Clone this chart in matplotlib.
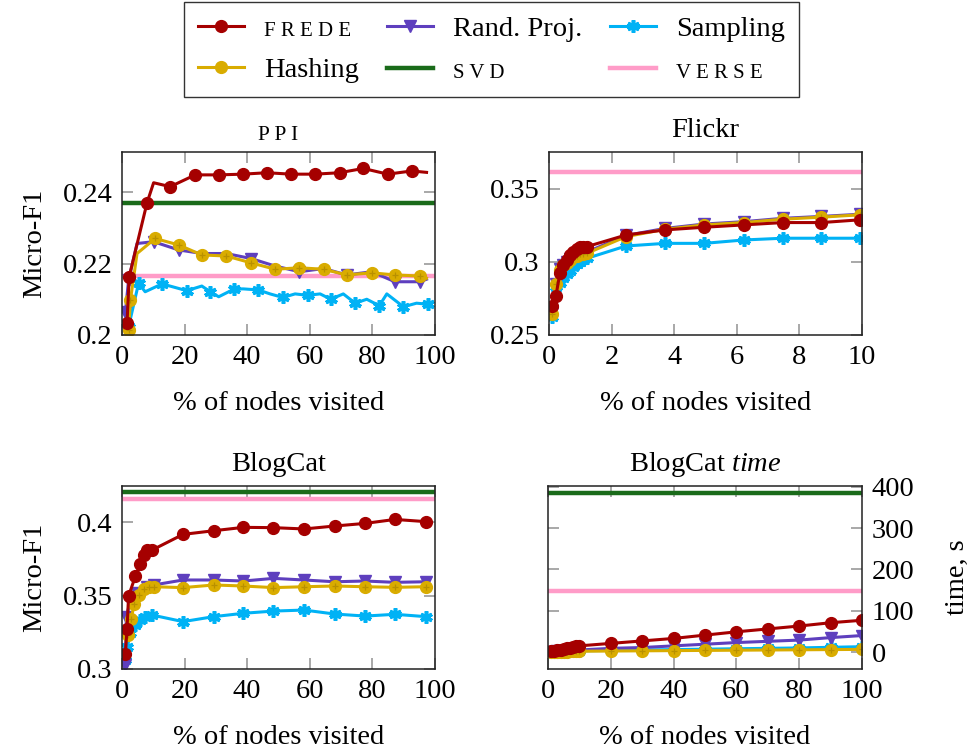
import matplotlib
matplotlib.use("Agg")
import matplotlib.pyplot as plt
from matplotlib.lines import Line2D

plt.rcParams['font.family'] = ['Liberation Serif', 'DejaVu Serif']
plt.rcParams['mathtext.fontset'] = 'custom'
plt.rcParams['mathtext.rm'] = 'Liberation Serif'
plt.rcParams['mathtext.it'] = 'Liberation Serif:italic'

# ---------------- data ----------------
# PPI
ppi_frede_x = [1.6, 2.3, 8.0, 10.1, 15.4, 23.4, 30.9, 38.6, 46.3, 54.0, 61.7, 69.5, 77.1, 84.9, 92.6, 97.3]
ppi_frede_y = [0.2033, 0.2163, 0.2370, 0.2426, 0.2415, 0.2448, 0.2448, 0.2450, 0.2454, 0.2450, 0.2450, 0.2454, 0.2466, 0.2450, 0.2459, 0.2455]
ppi_rp_x = [1.1, 2.1, 4.8, 10.1, 18.1, 25.5, 33.3, 41.2, 48.9, 56.7, 64.4, 71.8, 79.8, 87.2, 95.2, 97.3]
ppi_rp_y = [0.2065, 0.2154, 0.2256, 0.2261, 0.2238, 0.2228, 0.2228, 0.2214, 0.2193, 0.2177, 0.2186, 0.2168, 0.2177, 0.2149, 0.2149, 0.2156]
ppi_hash_x = [2.1, 2.7, 4.8, 10.6, 18.1, 25.5, 33.3, 41.2, 48.9, 56.7, 64.4, 71.8, 79.8, 87.2, 95.2, 97.3]
ppi_hash_y = [0.2014, 0.2098, 0.2228, 0.2270, 0.2252, 0.2224, 0.2221, 0.2202, 0.2184, 0.2188, 0.2184, 0.2168, 0.2174, 0.2168, 0.2165, 0.2159]
ppi_samp_x = [2.1, 5.3, 7.4, 12.8, 20.7, 25.5, 28.2, 30.9, 35.9, 38.8, 43.6, 47.3, 51.4, 55.3, 59.3, 63.3, 66.7, 70.7, 74.5, 78.2, 82.2, 84.6, 89.9, 94.1, 97.9]
ppi_samp_y = [0.2023, 0.2145, 0.2121, 0.2143, 0.2124, 0.2137, 0.2121, 0.2107, 0.2129, 0.2129, 0.2126, 0.2115, 0.2105, 0.2115, 0.2111, 0.2115, 0.2100, 0.2115, 0.2089, 0.2100, 0.2082, 0.2115, 0.2079, 0.2089, 0.2086]
ppi_svd = 0.2368
ppi_verse = 0.2166

# Flickr
fl_x = [0.085, 0.22, 0.35, 0.46, 0.57, 0.67, 0.78, 0.88, 0.99, 1.10, 1.20, 2.46, 3.71, 4.96, 6.22, 7.47, 8.70, 9.95]
fl_frede_y = [0.2695, 0.2766, 0.2924, 0.2977, 0.3011, 0.3046, 0.3069, 0.3085, 0.3099, 0.3103, 0.3103, 0.3183, 0.3218, 0.3236, 0.3252, 0.3268, 0.3268, 0.3287]
fl_hash_y = [0.2644, 0.2846, 0.2945, 0.2975, 0.2995, 0.3015, 0.3030, 0.3042, 0.3050, 0.3055, 0.3057, 0.3172, 0.3222, 0.3252, 0.3268, 0.3291, 0.3305, 0.3321]
fl_rp_y = [0.2650, 0.2850, 0.2950, 0.2980, 0.3000, 0.3020, 0.3035, 0.3047, 0.3056, 0.3062, 0.3066, 0.3180, 0.3228, 0.3258, 0.3274, 0.3297, 0.3310, 0.3325]
fl_samp_y = [0.2622, 0.2828, 0.2855, 0.2890, 0.2920, 0.2940, 0.2962, 0.2984, 0.3000, 0.3012, 0.3023, 0.3108, 0.3126, 0.3126, 0.3149, 0.3161, 0.3161, 0.3161]
fl_verse = 0.3612

# BlogCat
bc_frede_x = [1.06, 1.6, 2.1, 4.3, 5.85, 6.9, 8.0, 9.6, 19.5, 29.3, 38.8, 48.4, 58.2, 67.9, 77.7, 87.2, 97.1]
bc_frede_y = [0.3102, 0.3270, 0.3498, 0.3634, 0.3716, 0.3777, 0.3811, 0.3811, 0.3918, 0.3943, 0.3966, 0.3964, 0.3955, 0.3975, 0.3993, 0.4020, 0.4005]
bc_rp_x = [1.06, 1.4, 2.6, 4.8, 8.0, 10.1, 19.5, 29.3, 38.8, 48.4, 58.2, 67.9, 77.7, 87.2, 97.1]
bc_rp_y = [0.3027, 0.3357, 0.3460, 0.3516, 0.3561, 0.3573, 0.3607, 0.3607, 0.3600, 0.3618, 0.3607, 0.3595, 0.3600, 0.3591, 0.3595]
bc_hash_x = [1.8, 2.9, 3.9, 5.3, 6.9, 8.5, 10.1, 19.5, 29.3, 38.8, 48.4, 58.2, 67.9, 77.7, 87.2, 97.1]
bc_hash_y = [0.3232, 0.3339, 0.3441, 0.3505, 0.3543, 0.3557, 0.3561, 0.3555, 0.3573, 0.3566, 0.3555, 0.3561, 0.3566, 0.3561, 0.3557, 0.3561]
bc_samp_x = [1.0, 1.6, 2.7, 4.3, 5.85, 7.4, 9.6, 19.5, 29.3, 38.8, 48.4, 58.2, 67.9, 77.7, 87.2, 97.1]
bc_samp_y = [0.3060, 0.3152, 0.3243, 0.3300, 0.3334, 0.3357, 0.3368, 0.3323, 0.3357, 0.3380, 0.3395, 0.3402, 0.3375, 0.3361, 0.3373, 0.3357]
bc_svd = 0.4207
bc_verse = 0.4159

# BlogCat time
tm_x = [1, 2, 3, 4, 5, 6, 7, 8, 9, 10, 20, 30, 40, 50, 60, 70, 80, 90, 100]
tm_frede_y = [1.5, 3, 4.5, 6, 7.5, 9, 10.5, 12, 13.5, 15, 21, 27, 33, 41, 49, 56, 63, 71, 77]
tm_rp_y = [0.5, 1, 1.5, 2, 2.5, 3, 3.5, 4, 4.5, 5, 9, 11, 15, 19, 23, 26, 29, 35, 40]
tm_samp_y = [0.3, 0.6, 0.9, 1.2, 1.5, 1.8, 2.1, 2.4, 2.7, 3, 4, 5, 6, 7, 8, 9, 10, 11.5, 13]
tm_hash_y = [0.2, 0.4, 0.6, 0.8, 1.0, 1.2, 1.4, 1.6, 1.8, 2, 2.5, 3, 3.5, 4, 4.5, 5, 5.5, 6, 6.5]
tm_svd = 385
tm_verse = 148

legend_labels = ['F R E D E', 'Rand. Proj.', 'Sampling', 'Hashing', 'S V D', 'V E R S E']

# ---------------- style ----------------
C_FREDE = '#A50000'
C_RP = '#5E3FBE'
C_SAMP = '#00B2F5'
C_HASH = '#D9AC00'
C_SVD = '#1A6B1A'
C_VERSE = '#FF9CC8'
FS = 20.5
LW = 2.2

st_frede = dict(color=C_FREDE, lw=LW, marker='o', ms=8.5, mfc=C_FREDE, mec=C_FREDE)
st_rp = dict(color=C_RP, lw=LW, marker='v', ms=8.5, mfc=C_RP, mec=C_RP)
st_samp = dict(color=C_SAMP, lw=LW, marker=(6, 2, 0), ms=9, mec=C_SAMP, mew=2.6)
st_hash = dict(color=C_HASH, lw=LW, marker='o', ms=8.5, mfc=C_HASH, mec=C_HASH)
st_svd = dict(color=C_SVD, lw=3.2)
st_verse = dict(color=C_VERSE, lw=3.2)


def hashplot(ax, x, y, **kw):
    ax.plot(x, y, **st_hash, **kw)
    me = kw.get('markevery', None)
    ax.plot(x, y, ls='none', marker='+', ms=5, mew=0.9, color='#B89000', markevery=me)


fig = plt.figure(figsize=(9.72, 7.56), dpi=100)
W, H = 972, 756


def add_ax(l, r, t, b):
    return fig.add_axes([l / W, 1 - b / H, (r - l) / W, (b - t) / H])


ax1 = add_ax(122, 435, 152, 335)
ax2 = add_ax(549, 862, 152, 335)
ax3 = add_ax(122, 435, 486, 669)
ax4 = add_ax(548, 862, 486, 669)

# PPI
ax1.axhline(ppi_svd, **st_svd)
ax1.axhline(ppi_verse, **st_verse)
ax1.plot(ppi_samp_x, ppi_samp_y, markevery=[0, 1, 3, 4, 6, 8, 10, 12, 14, 16, 18, 20, 22, 24], **st_samp)
ax1.plot(ppi_rp_x, ppi_rp_y, markevery=[0, 1, 3, 4, 7, 9, 11, 13, 14], **st_rp)
hashplot(ax1, ppi_hash_x, ppi_hash_y, markevery=[0, 1, 3, 4, 5, 6, 7, 8, 9, 10, 11, 12, 13, 14])
ax1.plot(ppi_frede_x, ppi_frede_y, markevery=[0, 1, 2, 4, 5, 6, 7, 8, 9, 10, 11, 12, 13, 14], **st_frede)
ax1.set_xlim(0, 100)
ax1.set_ylim(0.2, 0.2512)
ax1.set_yticks([0.2, 0.22, 0.24])
ax1.set_yticklabels(['0.2', '0.22', '0.24'])
ax1.set_title('P P I', fontsize=15.5, pad=9)

# Flickr
ax2.axhline(fl_verse, **st_verse)
ax2.plot(fl_x, fl_samp_y, **st_samp)
ax2.plot(fl_x, fl_rp_y, **st_rp)
hashplot(ax2, fl_x, fl_hash_y)
ax2.plot(fl_x, fl_frede_y, **st_frede)
ax2.set_xlim(0, 10)
ax2.set_ylim(0.25, 0.375)
ax2.set_xticks([0, 2, 4, 6, 8, 10])
ax2.set_yticks([0.25, 0.3, 0.35])
ax2.set_yticklabels(['0.25', '0.3', '0.35'])
ax2.set_title('Flickr', fontsize=FS, pad=11)

# BlogCat
ax3.axhline(bc_svd, **st_svd)
ax3.axhline(bc_verse, **st_verse)
ax3.plot(bc_samp_x, bc_samp_y, **st_samp)
ax3.plot(bc_rp_x, bc_rp_y, **st_rp)
hashplot(ax3, bc_hash_x, bc_hash_y)
ax3.plot(bc_frede_x, bc_frede_y, **st_frede)
ax3.set_xlim(0, 100)
ax3.set_ylim(0.3, 0.4248)
ax3.set_yticks([0.3, 0.35, 0.4])
ax3.set_yticklabels(['0.3', '0.35', '0.4'])
ax3.set_title('BlogCat', fontsize=FS, pad=11)

# BlogCat time
ax4.axhline(tm_svd, **st_svd)
ax4.axhline(tm_verse, **st_verse)
ax4.plot(tm_x, tm_samp_y, **st_samp)
ax4.plot(tm_x, tm_rp_y, **st_rp)
hashplot(ax4, tm_x, tm_hash_y)
ax4.plot(tm_x, tm_frede_y, **st_frede)
ax4.set_xlim(0, 100)
ax4.set_ylim(-41, 402)
ax4.set_yticks([0, 100, 200, 300, 400])
ax4.yaxis.tick_right()
ax4.yaxis.set_label_position('right')
ax4.set_ylabel('time, s', fontsize=FS, labelpad=22)
ax4.set_title('BlogCat $\\mathit{time}$', fontsize=FS, pad=11)

for ax in (ax1, ax3, ax4):
    ax.set_xticks([0, 20, 40, 60, 80, 100])

for ax in (ax1, ax2, ax3, ax4):
    ax.set_xlabel('% of nodes visited', fontsize=FS, labelpad=15)
    ax.tick_params(direction='in', length=8, width=1.2, color='#999999',
                   labelsize=FS, pad=7, top=True, right=True, left=True, bottom=True)
    for s in ax.spines.values():
        s.set_linewidth(1.1)
        s.set_color('#222222')

ax1.set_ylabel('Micro-F1', fontsize=FS, labelpad=11)
ax3.set_ylabel('Micro-F1', fontsize=FS, labelpad=11)

# legend
handles = [
    Line2D([], [], **st_frede),
    Line2D([], [], **st_rp),
    Line2D([], [], **st_samp),
    Line2D([], [], **st_hash),
    Line2D([], [], **st_svd),
    Line2D([], [], **st_verse),
]
order = [0, 3, 1, 4, 2, 5]
leg = fig.legend([handles[i] for i in order], [legend_labels[i] for i in order],
                 ncol=3, loc='upper center', bbox_to_anchor=(0.5057, 0.997),
                 fontsize=FS, frameon=True, fancybox=False, edgecolor='black',
                 handlelength=1.6, columnspacing=1.0, handletextpad=0.7,
                 borderpad=0.5, labelspacing=0.55, borderaxespad=0)
leg.get_frame().set_linewidth(1.0)
for t in leg.get_texts():
    if t.get_text() in ('F R E D E', 'S V D', 'V E R S E'):
        t.set_fontsize(15)

fig.savefig('out.png', dpi=100)
